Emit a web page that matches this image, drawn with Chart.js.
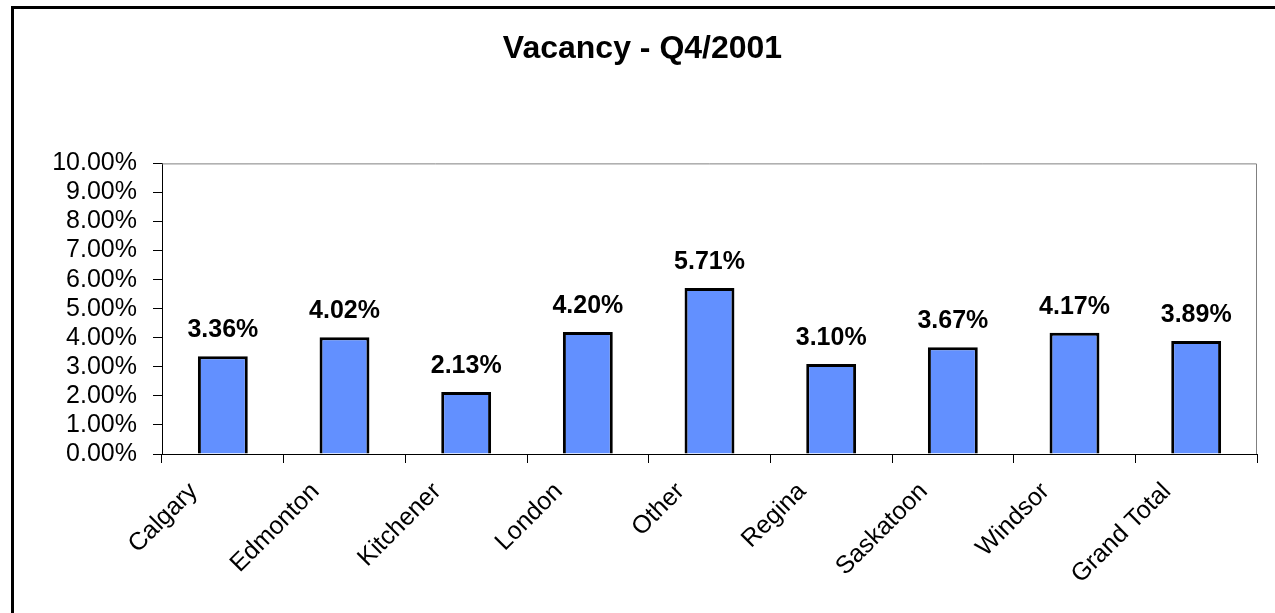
<!DOCTYPE html>
<html>
<head>
<meta charset="utf-8">
<script src="https://cdn.jsdelivr.net/npm/chart.js@4/dist/chart.umd.min.js"></script>
<style>
  html, body { margin: 0; padding: 0; background: #fff; overflow: hidden; }
  #wrap { position: relative; width: 1275px; height: 613px; }
  #frame { position: absolute; left: 11px; top: 6px; width: 1300px; height: 700px; border: 3px solid #000; box-sizing: border-box; }
  canvas { position: absolute; left: 0; top: 0; }
</style>
</head>
<body>
<div id="wrap">
  <div id="frame"></div>
  <canvas id="chart" width="1275" height="613"></canvas>
</div>
<script>
var cities = ['Calgary', 'Edmonton', 'Kitchener', 'London', 'Other', 'Regina', 'Saskatoon', 'Windsor', 'Grand Total']
var vacancy = [3.36, 4.02, 2.13, 4.20, 5.71, 3.10, 3.67, 4.17, 3.89]
var yMin = 0
var yMax = 10
var yStep = 1

var FONT = "'Liberation Sans', Arial, sans-serif"

// value labels above each bar
var barLabels = {
  id: 'barLabels',
  afterDatasetsDraw(chart) {
    var ctx = chart.ctx
    var meta = chart.getDatasetMeta(0)
    ctx.save()
    ctx.font = 'bold 25px ' + FONT
    ctx.fillStyle = '#000'
    ctx.textAlign = 'center'
    ctx.textBaseline = 'alphabetic'
    meta.data.forEach(function (bar, i) {
      ctx.fillText(vacancy[i].toFixed(2) + '%', bar.x, bar.y - 19)
    })
    ctx.restore()
  }
}

// grey frame round the plot area
var plotFrame = {
  id: 'plotFrame',
  beforeDatasetsDraw(chart) {
    var a = chart.chartArea
    var ctx = chart.ctx
    ctx.save()
    ctx.strokeStyle = '#808080'
    ctx.lineWidth = 1
    ctx.beginPath()
    ctx.moveTo(a.left, a.top + 0.5)
    ctx.lineTo(a.right - 0.5, a.top + 0.5)
    ctx.lineTo(a.right - 0.5, a.bottom)
    ctx.stroke()
    ctx.restore()
  }
}

new Chart(document.getElementById('chart'), {
  type: 'bar',
  data: {
    labels: cities,
    datasets: [{
      data: vacancy,
      backgroundColor: '#6290FF',
      borderColor: '#000',
      borderWidth: 3,
      categoryPercentage: 1,
      barPercentage: 0.41
    }]
  },
  options: {
    responsive: false,
    animation: false,
    layout: { padding: { left: 10, right: 0, top: 0, bottom: 0 } },
    plugins: {
      legend: { display: false },
      tooltip: { enabled: false },
      title: {
        display: true,
        text: 'Vacancy - Q4/2001',
        color: '#000',
        font: { family: FONT, size: 32, weight: 'bold' },
        padding: { top: 30, bottom: 95 }
      }
    },
    scales: {
      x: {
        grid: { drawOnChartArea: false, drawTicks: true, tickLength: 9, color: '#000', offset: true },
        border: { display: true, color: '#000', width: 1 },
        ticks: { color: '#000', font: { family: FONT, size: 25 }, minRotation: 45, maxRotation: 45, padding: 14, labelOffset: -29, autoSkip: false },
        afterFit(scale) { scale.height = 159 }
      },
      y: {
        min: yMin,
        max: yMax,
        grid: { drawOnChartArea: false, drawTicks: true, tickLength: 9, color: '#000' },
        border: { display: true, color: '#000', width: 1 },
        ticks: {
          stepSize: yStep,
          autoSkip: false,
          color: '#000',
          padding: 16,
          font: { family: FONT, size: 25 },
          callback: function (v) { return v.toFixed(2) + '%' }
        },
        afterFit(scale) { scale.width = 152 }
      },
      y2: {
        position: 'right',
        min: yMin,
        max: yMax,
        grid: { display: false },
        border: { display: false },
        ticks: { display: false },
        afterFit(scale) { scale.width = 18 }
      }
    }
  },
  plugins: [plotFrame, barLabels]
})
</script>
</body>
</html>
